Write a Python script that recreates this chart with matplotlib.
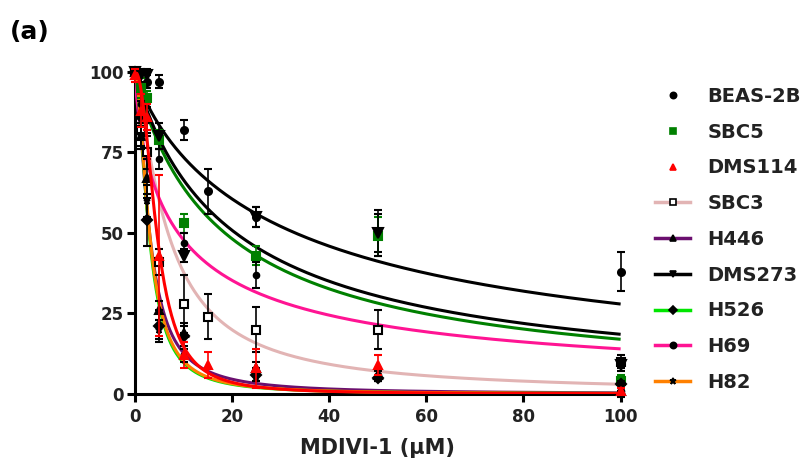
import numpy as np
import matplotlib
matplotlib.use("Agg")
import matplotlib.pyplot as plt
from matplotlib.lines import Line2D

plt.rcParams['font.family'] = ['DejaVu Sans']
plt.rcParams['font.weight'] = 'bold'

labels = ["BEAS-2B", "SBC5", "DMS114", "SBC3", "H446", "DMS273", "H526", "H69", "H82"]

# measured points (x = dose µM, y = % viability, e = error)
beas_x = [0, 2.5, 5, 10, 15, 25, 50, 100]
beas_y = [100, 97, 97, 82, 63, 55, 50, 38]
beas_e = [1, 2, 2, 3, 7, 3, 6, 6]

sbc5_x = [0, 1.25, 2.5, 5, 10, 25, 50, 100]
sbc5_y = [100, 95, 92, 79, 53, 43, 49, 4]
sbc5_e = [1, 3, 2, 3, 3, 3, 6, 2]

dms114_x = [0, 1.25, 2.5, 5, 10, 15, 25, 50, 100]
dms114_y = [99, 88, 86, 43, 12, 9, 8, 9, 1]
dms114_e = [2, 5, 4, 25, 4, 4, 6, 3, 1]

sbc3_x = [0, 1.25, 2.5, 5, 10, 15, 25, 50, 100]
sbc3_y = [100, 82, 75, 41, 28, 24, 20, 20, 10]
sbc3_e = [1, 5, 5, 4, 9, 7, 7, 6, 2]

h446_x = [0, 1.25, 2.5, 5, 10, 25, 50, 100]
h446_y = [100, 80, 67, 26, 19, 8, 6, 1]
h446_e = [1, 4, 6, 3, 3, 2, 2, 1]

dms273_x = [0, 1.25, 2.5, 5, 10, 25, 50, 100]
dms273_y = [100, 99, 99, 80, 43, 55, 50, 9]
dms273_e = [1, 2, 2, 4, 2, 3, 7, 2]

h526_x = [0, 1.25, 2.5, 5, 10, 25, 50, 100]
h526_y = [100, 86, 54, 21, 18, 6, 5, 3]
h526_e = [1, 5, 8, 5, 3, 2, 1, 1]

h69_x = [0, 1.25, 2.5, 5, 10, 25, 50, 100]
h69_y = [100, 90, 85, 73, 47, 37, 6, 1]
h69_e = [1, 3, 4, 3, 3, 4, 1, 1]

h82_x = [0, 1.25, 2.5, 5, 10, 25, 50, 100]
h82_y = [100, 80, 60, 20, 12, 5, 5, 0]
h82_e = [1, 4, 5, 3, 2, 1, 1, 1]

# fitted curve parameters: IC50 (µM) and Hill slope
ic50 = [33.0, 18.5, 4.5, 6.8, 3.0, 20.7, 2.9, 8.9, 3.0]
hill = [0.855, 0.94, 2.2, 1.29, 1.6, 0.94, 1.8, 0.75, 1.8]

xs = [beas_x, sbc5_x, dms114_x, sbc3_x, h446_x, dms273_x, h526_x, h69_x, h82_x]
ys = [beas_y, sbc5_y, dms114_y, sbc3_y, h446_y, dms273_y, h526_y, h69_y, h82_y]
es = [beas_e, sbc5_e, dms114_e, sbc3_e, h446_e, dms273_e, h526_e, h69_e, h82_e]

line_colors = ["black", "#008000", "#ff0000", "#e2b4b4", "#6b0f6f", "black", "#00e600", "#ff1493", "#ff8000"]
marker_shapes = ["o", "s", "^", "s", "^", "v", "D", "o", "*"]
marker_faces = ["black", "#008000", "#ff0000", "white", "black", "black", "black", "black", "black"]
marker_edges = ["black", "#008000", "#ff0000", "black", "black", "black", "black", "black", "black"]
marker_sizes = [5, 6, 6, 6, 6, 7, 5, 4, 5]
err_colors = ["black", "#008000", "#ff0000", "black", "black", "black", "black", "black", "black"]
legend_line = [False, False, False, True, True, True, True, True, True]
zorders = [3, 3, 6, 3, 4, 3, 4, 3, 4]

fig = plt.figure(figsize=(8.06, 4.70), dpi=100)
ax = fig.add_axes([0.1675, 0.1617, 0.6025, 0.6853])

xc = np.linspace(0.01, 100, 600)
for i in range(len(labels)):
    curve = 100.0 / (1.0 + (xc / ic50[i]) ** hill[i])
    ax.plot(xc, curve, color=line_colors[i], lw=2.2, zorder=zorders[i], solid_capstyle='butt')
for i in range(len(labels)):
    ax.errorbar(xs[i], ys[i], yerr=es[i], fmt=marker_shapes[i], color=err_colors[i],
                mfc=marker_faces[i], mec=marker_edges[i], ms=marker_sizes[i], mew=1.5,
                elinewidth=1.2, capsize=3, capthick=1.2, zorder=zorders[i] + 1, clip_on=False)

ax.set_xlim(0, 100)
ax.set_ylim(0, 100)
ax.set_xticks([0, 20, 40, 60, 80, 100])
ax.set_yticks([0, 25, 50, 75, 100])
for s in ["top", "right"]:
    ax.spines[s].set_visible(False)
for s in ["left", "bottom"]:
    ax.spines[s].set_linewidth(2.2)
ax.tick_params(axis='both', width=2.2, length=6, labelsize=12, pad=2, labelcolor='#222222')
for lab in ax.get_xticklabels() + ax.get_yticklabels():
    lab.set_fontweight('bold')
ax.tick_params(axis='x', pad=4)
ax.set_xlabel("MDIVI-1 (μM)", fontsize=15, fontweight='bold', labelpad=9, color='#222222')

handles = []
for i in range(len(labels)):
    handles.append(Line2D([0], [0], color=line_colors[i] if legend_line[i] else 'none', lw=2.5,
                          marker=marker_shapes[i], mfc=marker_faces[i], mec=marker_edges[i],
                          ms=4.5, mew=1.2))
leg = fig.legend(handles, labels, loc='upper left', bbox_to_anchor=(655 / 806, 1 - 87 / 470),
                 frameon=False, borderpad=0, borderaxespad=0,
                 handlelength=1.8, labelspacing=0.86, handletextpad=0.9,
                 prop={'weight': 'bold', 'size': 14})
for t in leg.get_texts():
    t.set_color('#222222')

fig.text(0.012, 0.918, "(a)", fontsize=18, fontweight='bold', color='black')

fig.savefig("out.png", dpi=100)
